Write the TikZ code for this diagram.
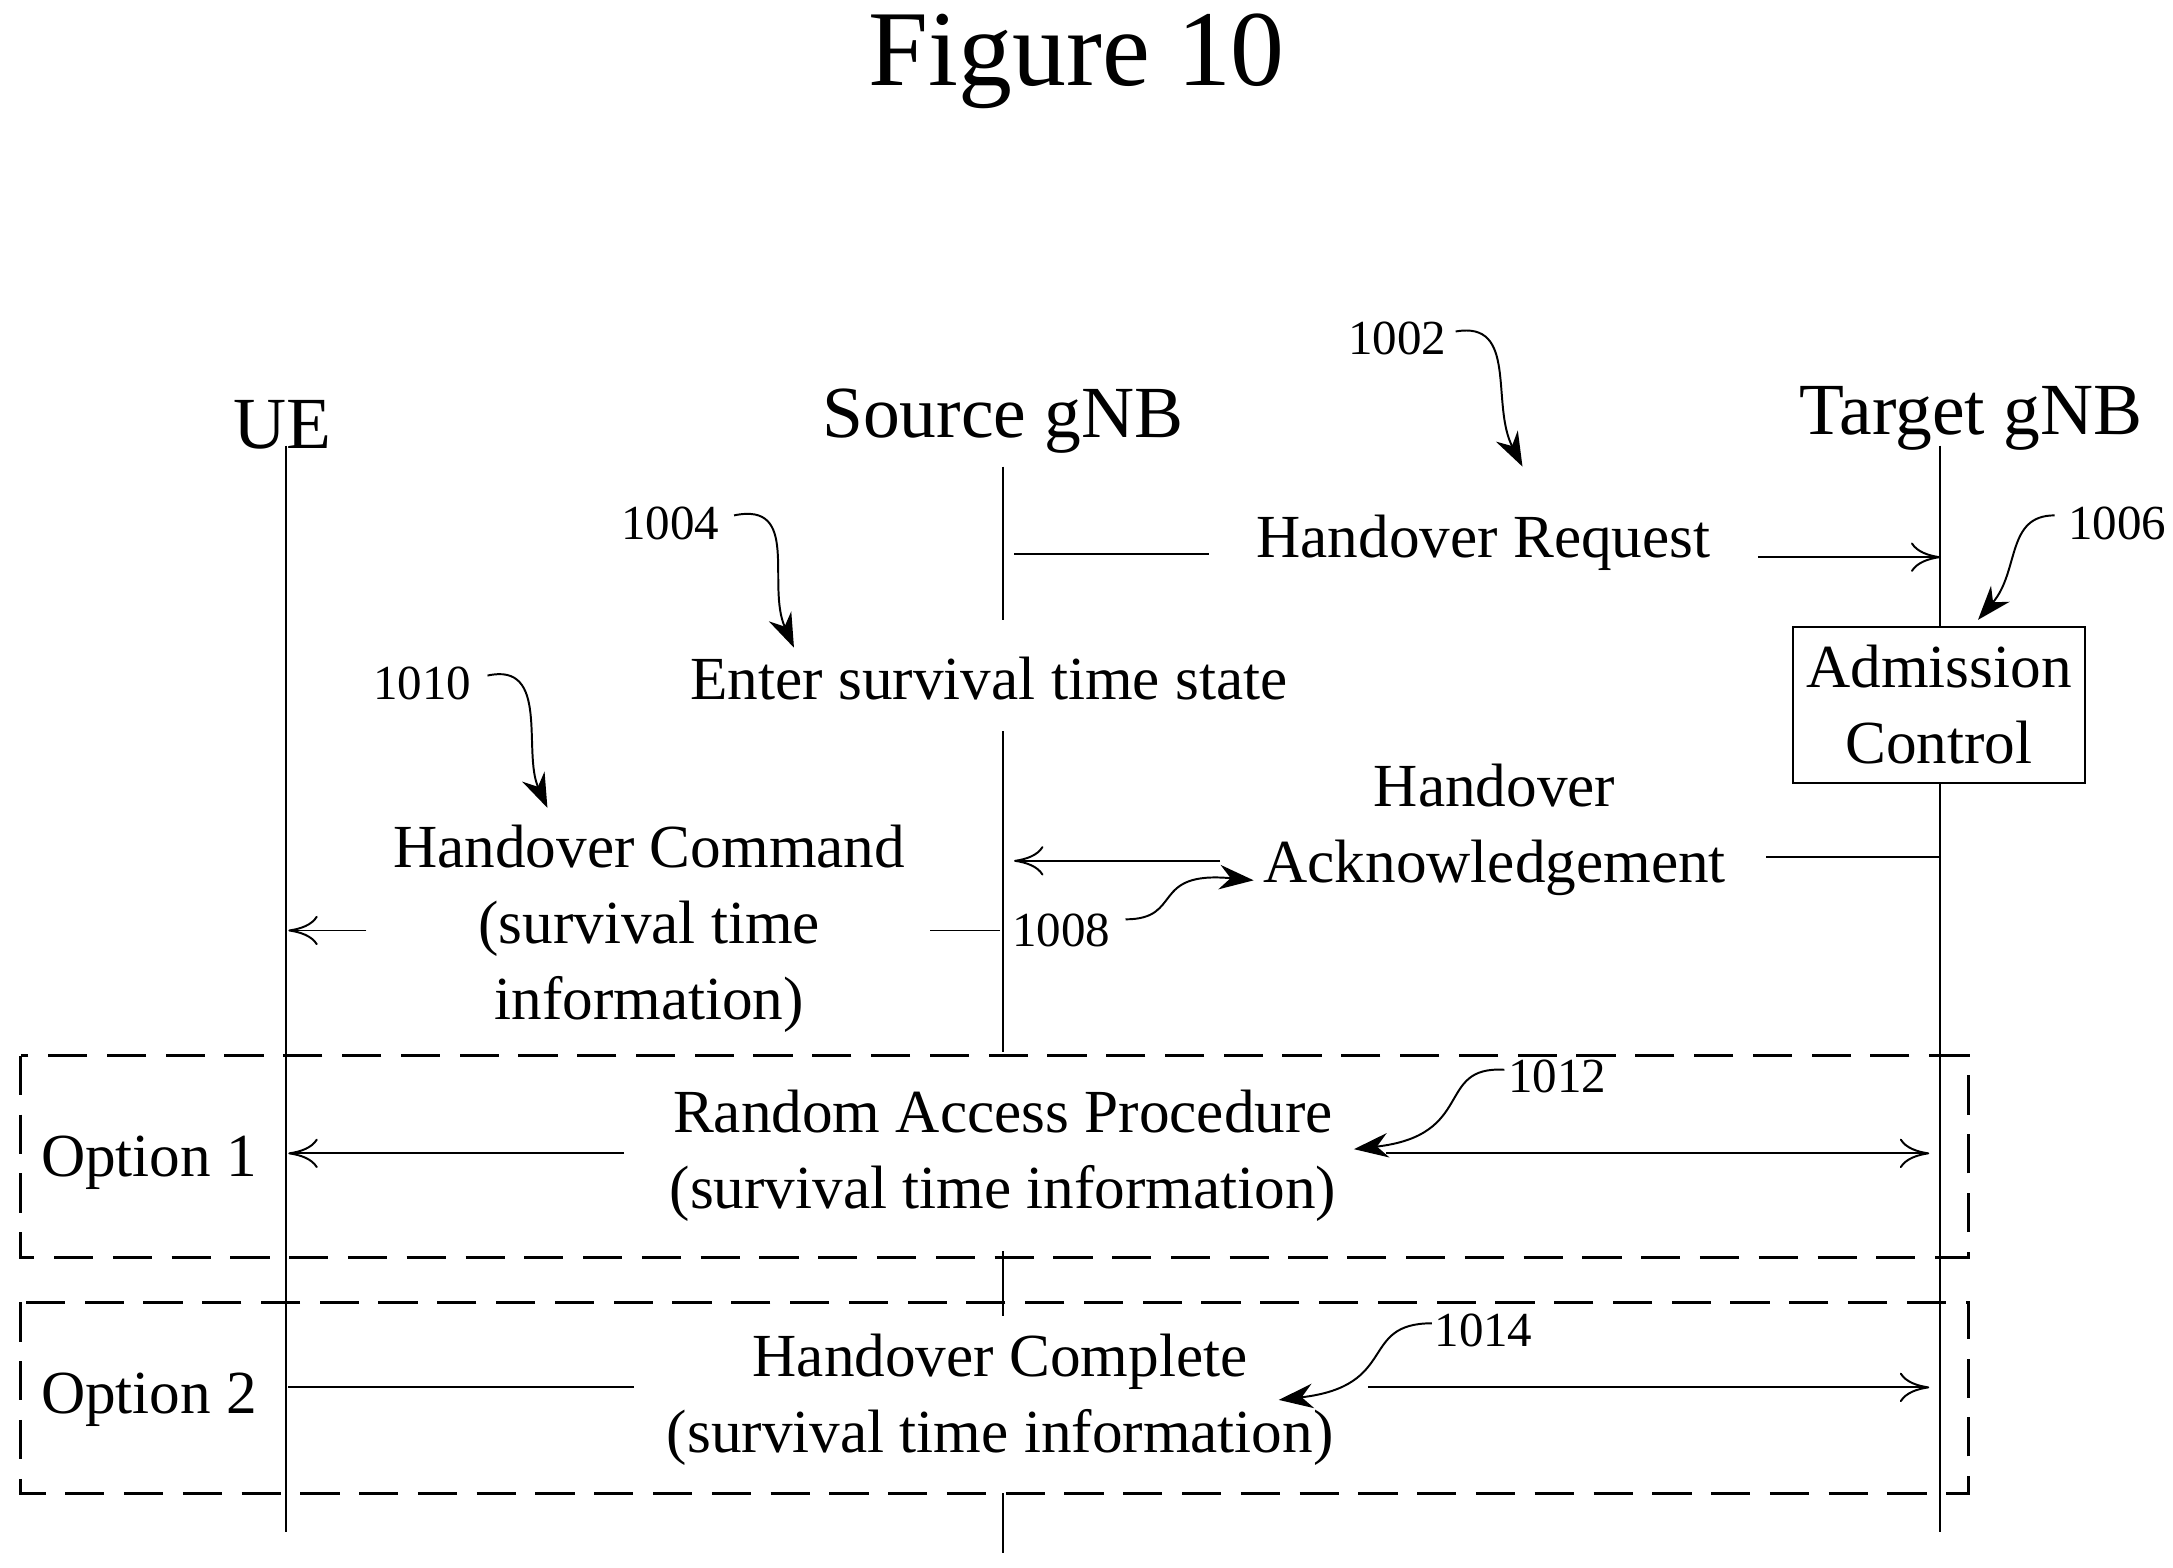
\documentclass[tikz,border=0pt]{standalone}
\usepackage{fontspec}
\setmainfont{Liberation Serif}
\usetikzlibrary{arrows.meta}
\tikzset{
  msg/.style={font=\fontsize{12.5}{15.5}\selectfont, align=center},
  lbl/.style={font=\fontsize{10}{12}\selectfont},
  ent/.style={font=\fontsize{15}{18}\selectfont},
  life/.style={thin},
  sig/.style={thin,-{To[length=6pt,width=6pt]}},
  ref/.style={thin,-{Stealth[length=7pt,width=5pt]}},
  opt/.style={semithick,dash pattern=on 8pt off 4pt}
}
\begin{document}
\begin{tikzpicture}[x=0.01cm,y=-0.01cm]
 \useasboundingbox (0,0) rectangle (1560,1125);
	% Titre
 \node[font=\fontsize{22}{26}\selectfont] (title) at (773,44) {Figure 10};

	% Entites
 \node[ent] (ue) at (203,305) {UE};
 \node[ent] (src) at (720,302) {Source gNB};
 \node[ent] (tgt) at (1415,300) {Target gNB};

	% Lignes de vie
 \draw[life] (205,320) -- (205,1100);
 \draw[life] (720,335) -- (720,445);
 \draw[life] (720,525) -- (720,755);
 \draw[life] (720,898) -- (720,945);
 \draw[life] (720,1072) -- (720,1115);
 \draw[life] (1393,320) -- (1393,450);
 \draw[life] (1393,562) -- (1393,1100);

	% Messages
 \node[msg] (horeq) at (1065,390) {Handover Request};
 \draw[life] (728,398) -- (868,398);
 \draw[sig] (1262,400) -- (1393,400);

 \node[msg] (enter) at (710,487) {Enter survival time state};
 \node[msg, draw, thin, minimum width=2.09cm, minimum height=1.12cm, inner sep=1pt] (adm) at (1392,506) {Admission\\Control};

 \node[msg] (hoack) at (1073,596) {Handover\\Acknowledgement};
 \draw[life] (1393,615) -- (1268,615);
 \draw[sig] (876,618) -- (728,618);

 \node[msg] (hocmd) at (466,667) {Handover Command\\(survival time\\information)};
 \draw[life] (718,668) -- (668,668);
 \draw[sig] (263,668) -- (207,668);

	% Options
 \draw[opt] (15,758) rectangle (1413,903);
 \node[msg] (opt1) at (107,835) {Option 1};
 \node[msg] (rach) at (720,830) {Random Access Procedure\\(survival time information)};
 \draw[sig] (448,828) -- (207,828);
 \draw[sig] (995,828) -- (1385,828);

 \draw[opt] (15,935) rectangle (1413,1072);
 \node[msg] (opt2) at (107,1005) {Option 2};
 \node[msg] (hocpl) at (718,1005) {Handover Complete\\(survival time information)};
 \draw[life] (207,996) -- (455,996);
 \draw[sig] (982,996) -- (1385,996);

	% Reperes
 \node[lbl] (n1002) at (1003,243) {1002};
 \draw[ref] (1045,238) .. controls (1090,230) and (1070,290) .. (1093,335);
 \node[lbl] (n1004) at (481,376) {1004};
 \draw[ref] (527,370) .. controls (575,360) and (550,420) .. (570,465);
 \node[lbl] (n1006) at (1520,376) {1006};
 \draw[ref] (1475,370) .. controls (1440,370) and (1450,410) .. (1420,445);
 \node[lbl] (n1008) at (762,668) {1008};
 \draw[ref] (808,660) .. controls (850,660) and (825,625) .. (900,632);
 \node[lbl] (n1010) at (303,491) {1010};
 \draw[ref] (350,485) .. controls (395,475) and (375,540) .. (393,580);
 \node[lbl] (n1012) at (1118,773) {1012};
 \draw[ref] (1080,768) .. controls (1030,765) and (1060,815) .. (972,825);
 \node[lbl] (n1014) at (1065,955) {1014};
 \draw[ref] (1028,950) .. controls (975,950) and (1005,995) .. (918,1005);
\end{tikzpicture}
\end{document}
